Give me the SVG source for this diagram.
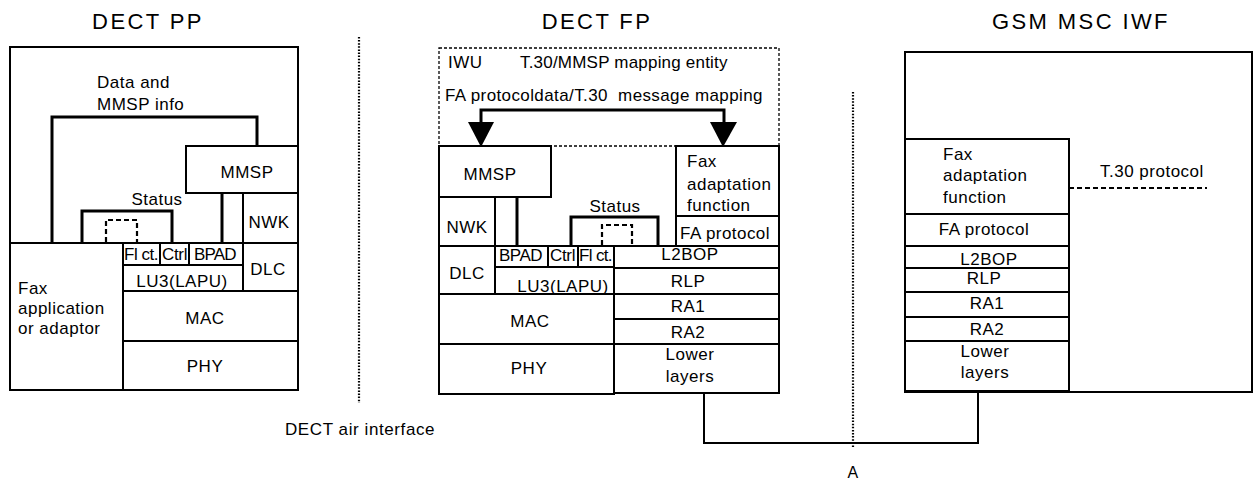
<svg xmlns="http://www.w3.org/2000/svg" width="1257" height="483" viewBox="0 0 1257 483">
  <style>
    text { font-family: "Liberation Sans", Arial, sans-serif; font-size: 17px; fill: #000; letter-spacing: 0.5px; }
    .title { font-size: 22px; letter-spacing: 2.4px; text-anchor: middle; }
    .c { text-anchor: middle; }
    .box { fill: #fff; stroke: #000; stroke-width: 2; }
    .frame { fill: none; stroke: #000; stroke-width: 2; }
    .iwu { fill: none; stroke: #000; stroke-width: 1.3; stroke-dasharray: 3 2; }
    .heavy { fill: none; stroke: #000; stroke-width: 3; }
    .thin { fill: none; stroke: #000; stroke-width: 2; }
    .dash { fill: none; stroke: #000; stroke-width: 2.2; stroke-dasharray: 5 3; }
    .dots { fill: none; stroke: #000; stroke-width: 2.2; stroke-dasharray: 1.5 1.6; }
  </style>

  <!-- Titles -->
  <text class="title" x="148" y="29">DECT PP</text>
  <text class="title" x="597" y="29">DECT FP</text>
  <text class="title" x="1081" y="29">GSM MSC IWF</text>

  <!-- Reference lines -->
  <g id="interfaces">
    <line class="dots" x1="359" y1="37" x2="359" y2="403"/>
    <text x="285" y="435" textLength="150">DECT air interface</text>
    <line class="dots" x1="853" y1="92" x2="853" y2="448"/>
    <text class="c" x="853" y="478" style="font-size:16px">A</text>
  </g>

  <!-- DECT portable part stack -->
  <g id="pp">
    <rect class="frame" x="10" y="47" width="288" height="343"/>
    <g id="pp-mmsp"><rect class="box" x="186" y="146" width="112" height="47"/><text class="c" x="247" y="178">MMSP</text></g>
    <g id="pp-nwk"><rect class="box" x="243" y="193" width="55" height="50"/><text class="c" x="269" y="228">NWK</text></g>
    <g id="pp-fax"><rect class="box" x="10" y="243" width="113" height="147"/>
      <text x="18" y="294">Fax</text><text x="18" y="314">application</text><text x="18" y="334">or adaptor</text></g>
    <g id="pp-flct"><rect class="box" x="123" y="243" width="37" height="22"/><text x="124" y="260" textLength="35">Fl ct.</text></g>
    <g id="pp-ctrl"><rect class="box" x="160" y="243" width="29" height="22"/><text x="162" y="260" textLength="26">Ctrl</text></g>
    <g id="pp-bpad"><rect class="box" x="189" y="243" width="54" height="22"/><text x="194" y="260" textLength="43">BPAD</text></g>
    <g id="pp-lu3"><rect class="box" x="123" y="265" width="120" height="26"/><text class="c" x="182" y="287">LU3(LAPU)</text></g>
    <g id="pp-dlc"><rect class="box" x="243" y="243" width="55" height="48"/><text class="c" x="268" y="275">DLC</text></g>
    <g id="pp-mac"><rect class="box" x="123" y="291" width="175" height="50"/><text class="c" x="205" y="324">MAC</text></g>
    <g id="pp-phy"><rect class="box" x="123" y="341" width="175" height="49"/><text class="c" x="205" y="372">PHY</text></g>
    <text x="97" y="88">Data and</text>
    <text x="97" y="110">MMSP info</text>
    <text class="c" x="157" y="205">Status</text>
  </g>

  <!-- DECT fixed part stack -->
  <g id="fp">
    <g id="fp-iwu"><rect class="iwu" x="439" y="48" width="340" height="98"/>
      <text x="448" y="68">IWU</text>
      <text x="520" y="68" textLength="208">T.30/MMSP mapping entity</text>
      <text x="445" y="101" textLength="318" xml:space="preserve">FA protocoldata/T.30  message mapping</text></g>
    <g id="fp-mmsp"><rect class="box" x="439" y="146" width="112" height="51"/><text class="c" x="490" y="180">MMSP</text></g>
    <g id="fp-faf"><rect class="box" x="676" y="146" width="103" height="70"/>
      <text x="687" y="167">Fax</text><text x="687" y="190">adaptation</text><text x="687" y="211">function</text></g>
    <g id="fp-fap"><rect class="box" x="676" y="216" width="103" height="30"/><text x="680" y="239" textLength="90">FA protocol</text></g>
    <g id="fp-nwk"><rect class="box" x="439" y="197" width="56" height="49"/><text class="c" x="467" y="233">NWK</text></g>
    <g id="fp-dlc"><rect class="box" x="439" y="246" width="56" height="48"/><text class="c" x="467" y="279">DLC</text></g>
    <g id="fp-bpad"><rect class="box" x="495" y="246" width="53" height="21"/><text x="499" y="261" textLength="44">BPAD</text></g>
    <g id="fp-ctrl"><rect class="box" x="548" y="246" width="30" height="21"/><text x="550" y="261" textLength="26">Ctrl</text></g>
    <g id="fp-flct"><rect class="box" x="578" y="246" width="36" height="21"/><text x="579" y="261" textLength="34">Fl ct.</text></g>
    <g id="fp-lu3"><rect class="box" x="495" y="267" width="119" height="27"/><text class="c" x="563" y="292">LU3(LAPU)</text></g>
    <g id="fp-l2bop"><rect class="box" x="614" y="246" width="165" height="22"/><text class="c" x="690" y="260">L2BOP</text></g>
    <g id="fp-rlp"><rect class="box" x="614" y="268" width="165" height="26"/><text class="c" x="688" y="287">RLP</text></g>
    <g id="fp-ra1"><rect class="box" x="614" y="294" width="165" height="25"/><text class="c" x="688" y="312">RA1</text></g>
    <g id="fp-ra2"><rect class="box" x="614" y="319" width="165" height="25"/><text class="c" x="688" y="338">RA2</text></g>
    <g id="fp-lower"><rect class="box" x="614" y="344" width="165" height="49"/>
      <text class="c" x="690" y="360">Lower</text><text class="c" x="690" y="382">layers</text></g>
    <g id="fp-mac"><rect class="box" x="439" y="294" width="175" height="50"/><text class="c" x="530" y="327">MAC</text></g>
    <g id="fp-phy"><rect class="box" x="439" y="344" width="175" height="50"/><text class="c" x="529" y="374">PHY</text></g>
    <text class="c" x="615" y="212">Status</text>
  </g>

  <!-- GSM MSC interworking function stack -->
  <g id="gsm">
    <rect class="frame" x="905" y="52" width="347" height="340"/>
    <g id="gsm-faf"><rect class="box" x="905" y="139" width="164" height="75"/>
      <text x="943" y="160">Fax</text><text x="943" y="181">adaptation</text><text x="943" y="203">function</text></g>
    <g id="gsm-fap"><rect class="box" x="905" y="214" width="164" height="32"/><text class="c" x="984" y="235">FA protocol</text></g>
    <g id="gsm-l2bop"><rect class="box" x="905" y="246" width="164" height="22"/><text class="c" x="989" y="265">L2BOP</text></g>
    <g id="gsm-rlp"><rect class="box" x="905" y="268" width="164" height="24"/><text class="c" x="984" y="284">RLP</text></g>
    <g id="gsm-ra1"><rect class="box" x="905" y="292" width="164" height="25"/><text class="c" x="987" y="309">RA1</text></g>
    <g id="gsm-ra2"><rect class="box" x="905" y="317" width="164" height="24"/><text class="c" x="987" y="335">RA2</text></g>
    <g id="gsm-lower"><rect class="box" x="905" y="341" width="164" height="50"/>
      <text class="c" x="985" y="357">Lower</text><text class="c" x="985" y="378">layers</text></g>
    <text x="1100" y="177">T.30 protocol</text>
  </g>

  <!-- Connectors -->
  <g id="connectors">
    <!-- PP: data and MMSP info path -->
    <path class="heavy" d="M52,243 V117 H257 V146"/>
    <!-- PP: MMSP to BPAD -->
    <line class="heavy" x1="222" y1="193" x2="222" y2="243"/>
    <!-- PP: status -->
    <path class="heavy" d="M82,243 V211 H172 V243"/>
    <path class="dash" d="M106,242 V220 H137 V242"/>
    <!-- FP: MMSP to BPAD -->
    <line class="heavy" x1="517" y1="197" x2="517" y2="246"/>
    <!-- FP: status -->
    <path class="heavy" d="M571,246 V217 H658 V246"/>
    <path class="dash" d="M602,245 V225 H632 V245"/>
    <!-- FP: mapping arrows -->
    <path class="heavy" d="M481,123 V110 H724 V123"/>
    <polygon points="468,122 494,122 481,147" fill="#000"/>
    <polygon points="710,122 737,122 723,147" fill="#000"/>
    <!-- T.30 protocol -->
    <line class="dash" x1="1069" y1="188" x2="1207" y2="188"/>
    <!-- Lower layers link through reference point A -->
    <path class="thin" d="M704,393 V443 H978 V392"/>
  </g>
</svg>
